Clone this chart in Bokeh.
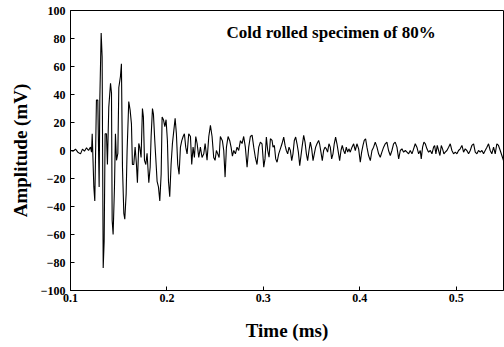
from bokeh.plotting import figure
from bokeh.models import Range1d, FixedTicker, Label
from bokeh.embed import file_html
from bokeh.resources import INLINE

# Time (ms)
time_ms = [
    0.1000, 0.1028, 0.1052, 0.1076, 0.1104, 0.1124, 0.1145, 0.1166, 0.1187, 0.1207,
    0.1218, 0.1225, 0.1242, 0.1252, 0.1269, 0.1283, 0.1297, 0.1304, 0.1318, 0.1328,
    0.1339, 0.1349, 0.1359, 0.1373, 0.1383, 0.1397, 0.1415, 0.1425, 0.1432, 0.1442,
    0.1456, 0.1466, 0.1477, 0.1491, 0.1501, 0.1518, 0.1528, 0.1539, 0.1553, 0.1563,
    0.1577, 0.1587, 0.1604, 0.1618, 0.1632, 0.1642, 0.1656, 0.1670, 0.1684, 0.1694,
    0.1708, 0.1718, 0.1732, 0.1746, 0.1756, 0.1767, 0.1781, 0.1794, 0.1812, 0.1826,
    0.1836, 0.1850, 0.1860, 0.1874, 0.1884, 0.1898, 0.1912, 0.1926, 0.1940, 0.1950,
    0.1964, 0.1978, 0.1991, 0.2005, 0.2016, 0.2029, 0.2043, 0.2057, 0.2071, 0.2085,
    0.2098, 0.2112, 0.2126, 0.2140, 0.2154, 0.2168, 0.2181, 0.2195, 0.2209, 0.2226,
    0.2244, 0.2257, 0.2271, 0.2285, 0.2299, 0.2313, 0.2330, 0.2347, 0.2364, 0.2382,
    0.2396, 0.2416, 0.2434, 0.2451, 0.2468, 0.2485, 0.2499, 0.2513, 0.2527, 0.2541,
    0.2554, 0.2575, 0.2589, 0.2603, 0.2617, 0.2634, 0.2651, 0.2665, 0.2679, 0.2693,
    0.2710, 0.2727, 0.2744, 0.2762, 0.2779, 0.2796, 0.2813, 0.2831, 0.2848, 0.2865,
    0.2883, 0.2900, 0.2917, 0.2934, 0.2952,
    0.2969, 0.2986, 0.3004, 0.3017, 0.3031, 0.3045, 0.3059, 0.3073, 0.3090, 0.3100,
    0.3114, 0.3128, 0.3142, 0.3159, 0.3176, 0.3193, 0.3211, 0.3225, 0.3238, 0.3252,
    0.3266, 0.3280, 0.3294, 0.3307, 0.3321, 0.3335, 0.3349, 0.3363, 0.3377,
    0.3401, 0.3418, 0.3432, 0.3446, 0.3459, 0.3473, 0.3487, 0.3501, 0.3515, 0.3528,
    0.3542, 0.3556, 0.3573, 0.3583, 0.3597, 0.3611, 0.3625, 0.3639, 0.3653, 0.3666,
    0.3680, 0.3694, 0.3708, 0.3722, 0.3735, 0.3749, 0.3763, 0.3777, 0.3791, 0.3805,
    0.3818, 0.3832, 0.3846, 0.3860, 0.3874, 0.3887, 0.3901, 0.3919, 0.3936, 0.3953,
    0.3970, 0.3988, 0.4005, 0.4019, 0.4033, 0.4046, 0.4060, 0.4074, 0.4091, 0.4109,
    0.4126, 0.4143, 0.4160, 0.4178, 0.4195, 0.4212, 0.4229, 0.4247, 0.4264, 0.4281,
    0.4298, 0.4316, 0.4333, 0.4350, 0.4367,
    0.4385, 0.4403, 0.4420, 0.4437, 0.4454, 0.4472, 0.4489, 0.4506, 0.4523, 0.4541,
    0.4558, 0.4575, 0.4592, 0.4610, 0.4627, 0.4637, 0.4651, 0.4665, 0.4679, 0.4696,
    0.4713, 0.4731, 0.4748, 0.4765, 0.4776, 0.4789, 0.4803, 0.4817, 0.4831, 0.4845,
    0.4858, 0.4872, 0.4886, 0.4903, 0.4921, 0.4938, 0.4955, 0.4972, 0.4990, 0.5007,
    0.5024, 0.5041, 0.5059, 0.5076, 0.5093, 0.5110, 0.5128, 0.5145, 0.5162, 0.5180,
    0.5197, 0.5214, 0.5231, 0.5249, 0.5266, 0.5283, 0.5300, 0.5318, 0.5335, 0.5352,
    0.5369, 0.5387, 0.5404, 0.5421, 0.5438, 0.5456, 0.5473, 0.5490,
]

# Amplitude (mV)
amplitude_mv = [
    0, -0.5, 1.0, -1.2, -2.4, 1.0, -0.5, 1.9, 0, 2.4,
    -1.2, 12, -26, -36, 36, 36, -26, 36, 84, 67,
    -84, -65, 12, 12, -10, 31, 48, 41, -50, -60,
    -26, 12, -7, -2, 45, 53, 62, -12, -45, -49,
    -31, 0, 35, 29, 19, -10, -10, 2.4, -10, -23,
    5, 2.4, -5, 30, 24, -7, -10, -2, -23, -12,
    10, 30, 26, 7, -5, -22, -26, -36, -17, 24,
    22, 17, 22, 7, -22, -33, -10, 5, 14, 23,
    12, -10, -17, 2.4, 7, 10, 12, 2.4, -2.4, 12,
    10, -10, 2.4, -5, 10, 5, -5, 2.4, -5, -2.4,
    5, -7, 10, 18, 10, -5, -7, 0, -2.4, -5,
    10, 7, 0, -19, 2.4, 10, 7, 2.4, -4, 0,
    -2.4, 2.4, 0, 7, 5, 10, 2.4, -12, 2.4, 10,
    11, 2.4, -5, -10, 2.4,
    6.0, 4.8, -11.9, -6.0, 9.6, 0, -4.8, 8.4, 7.2, 2.4,
    3.6, -6.0, -8.4, -2.4, 1.2, 4.8, 9.6, 3.6, 0, -2.4,
    2.4, 0, -7.2, -2.4, 7.2, 9.6, 4.8, -1.2, -10.8,
    2.4, 10.8, 6.0, -2.4, -7.2, 0, 6.0, 1.2, -7.2, -2.4,
    2.4, 4.8, 7.2, 4.8, -1.2, -7.2, 0, 2.4, 1.2, -1.2,
    4.8, 2.4, -6.0, -2.4, 4.8, 9.6, 4.8, -1.2, -7.2, 0,
    3.6, 0, -2.4, 2.4, -1.2, 1.2, -1.2, 2.4, 4.8, 0,
    4.8, 1.2, -8.4, -1.2, 3.6, 7.2, 8.4, 2.4, -3.6, -7.2,
    0, 2.4, 6.0, 2.4, -2.4, -4.8, -1.2, 2.4, 4.8, 6.0,
    0, -3.6, 0, 4.8, 6.0,
    2.4, -6.0, 0, 1.2, -1.2, 0, -1.2, -2.4, 0, -2.4,
    1.2, 4.8, 2.4, -2.4, 0, -6.0, 2.4, 6.0, 4.8, 1.2,
    -1.2, 0, -2.4, 2.4, 3.6, -2.4, 3.6, 0, -3.6, 3.6,
    1.2, -2.4, -1.2, 0, 2.4, 4.8, 0, -2.4, -1.2, -2.4,
    0, 1.2, 3.6, -1.2, 1.2, 0, -2.4, 0, 3.6, 4.8,
    -1.2, -2.4, 0, -1.2, 0, -2.4, 0, 2.4, 4.8, 0,
    -2.4, 2.4, -2.4, 4.8, 3.6, 0, -3.6, -7.2,
]

x_ticks = [0.1, 0.2, 0.3, 0.4, 0.5]
y_ticks = [-100, -80, -60, -40, -20, 0, 20, 40, 60, 80, 100]
title_text = "Cold rolled specimen of 80%"

FONT = "Liberation Serif"

p = figure(width=504, height=347, output_backend="svg", toolbar_location=None,
           x_range=Range1d(0.1, 0.549), y_range=Range1d(-100, 100),
           min_border_left=70, min_border_right=1, min_border_top=10, min_border_bottom=57)
p.background_fill_color = "white"
p.border_fill_color = "white"
p.outline_line_color = "black"
p.outline_line_width = 1
p.grid.visible = False

p.line(time_ms, amplitude_mv, line_color="black", line_width=1.1)

p.xaxis.ticker = FixedTicker(ticks=x_ticks)
p.yaxis.ticker = FixedTicker(ticks=y_ticks)
for ax in (p.xaxis[0], p.yaxis[0]):
    ax.major_tick_in = 4
    ax.major_tick_out = 0
    ax.minor_tick_in = 0
    ax.minor_tick_out = 0
    ax.axis_line_color = "black"
    ax.major_tick_line_color = "black"
    ax.major_label_text_font = FONT
    ax.major_label_text_font_style = "bold"
    ax.major_label_text_font_size = "12px"
    ax.major_label_text_color = "black"
    ax.axis_label_text_font = FONT
    ax.axis_label_text_font_style = "bold"
    ax.axis_label_text_font_size = "19px"
    ax.axis_label_text_color = "black"

p.xaxis.axis_label = "Time (ms)"
p.yaxis.axis_label = "Amplitude (mV)"
p.xaxis.major_label_standoff = 3
p.xaxis.axis_label_standoff = 15
p.yaxis.major_label_standoff = 5
p.yaxis.axis_label_standoff = 7

p.add_layout(Label(x=0.2617, y=84, text=title_text, text_font=FONT,
                   text_font_style="bold", text_font_size="17px",
                   text_baseline="middle", text_color="black"))

open("out.html", "w").write(file_html(p, INLINE))
